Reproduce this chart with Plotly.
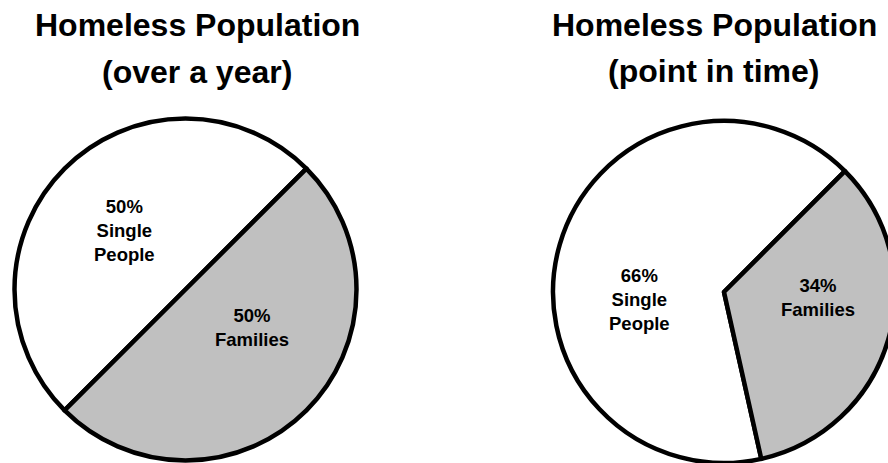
import plotly.graph_objects as go

# ---- data ----
categories = ["Single People", "Families"]
over_year_pct = [50, 50]
point_in_time_pct = [66, 34]
chart_titles = [["Homeless Population", "(over a year)"],
                ["Homeless Population", "(point in time)"]]

# ---- layout constants (pixels) ----
W, H = 900, 463
R = 171
FONT = "Liberation Sans, Arial, sans-serif"
slice_colors = ["#ffffff", "#c0c0c0"]

pies = [
    dict(values=over_year_pct, center=(185.5, 289.5), rotation=225,
         label_pos=[(124, 230.5), (252, 327)]),
    dict(values=point_in_time_pct, center=(724, 292), rotation=167.4,
         label_pos=[(639, 299.5), (818, 297.5)]),
]
title_pos = [(197, (25, 72)), (714, (25, 71))]


def dom(cx, cy, r):
    return dict(x=[(cx - r) / W, (cx + r) / W],
                y=[1 - (cy + r) / H, 1 - (cy - r) / H])


fig = go.Figure()
annotations = []
for p in pies:
    vals = p["values"]
    cx, cy = p["center"]
    fig.add_trace(go.Pie(
        labels=categories,
        values=vals,
        textinfo="none",
        marker=dict(colors=slice_colors, line=dict(color="black", width=4.5)),
        sort=False,
        direction="clockwise",
        rotation=p["rotation"],
        domain=dom(cx, cy, R),
        showlegend=False,
        hoverinfo="skip",
    ))
    total = sum(vals)
    for cat, v, (lx, ly) in zip(categories, vals, p["label_pos"]):
        txt = f"{round(100 * v / total)}%<br>" + cat.replace(" ", "<br>")
        annotations.append(dict(
            text=f"<b>{txt}</b>", x=lx / W, y=1 - ly / H,
            xref="paper", yref="paper", xanchor="center", yanchor="middle",
            align="center", showarrow=False,
            font=dict(family=FONT, size=18.5, color="black")))

for (l1, l2), (cx, ys) in zip(chart_titles, title_pos):
    for txt, y in zip((l1, l2), ys):
        annotations.append(dict(
            text=f"<b>{txt}</b>", x=cx / W, y=1 - y / H,
            xref="paper", yref="paper", xanchor="center", yanchor="middle",
            showarrow=False, font=dict(family=FONT, size=32, color="black")))

fig.update_layout(
    width=W, height=H,
    margin=dict(l=0, r=0, t=0, b=0),
    paper_bgcolor="white", plot_bgcolor="white",
    annotations=annotations,
)

fig.write_html("out.html",
               config={"displayModeBar": False},
               post_script="document.body.style.margin='0';document.body.style.overflow='hidden';")
